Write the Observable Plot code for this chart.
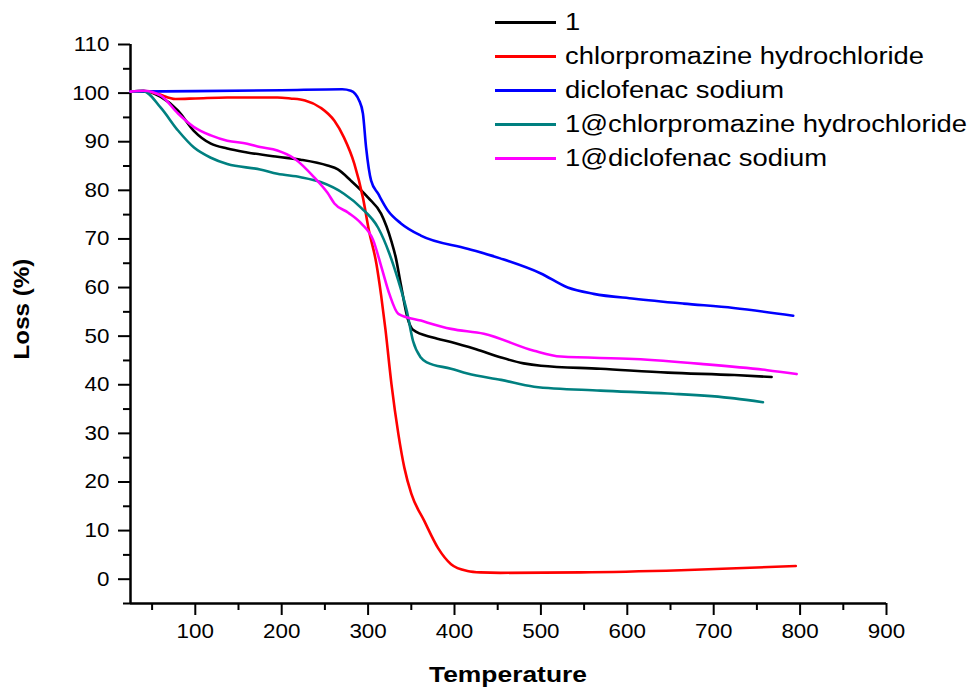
<!DOCTYPE html>
<html>
<head>
<meta charset="utf-8">
<script src="https://cdn.jsdelivr.net/npm/d3@7"></script>
<script src="https://cdn.jsdelivr.net/npm/@observablehq/plot@0.6"></script>
<style>
  html, body { margin: 0; padding: 0; background: #fff; }
  #wrap { position: relative; width: 974px; height: 688px; font-family: "Liberation Sans", Arial, sans-serif; color: #000; }
  #chart { position: absolute; left: 0; top: 0; }
  .legend { position: absolute; left: 495px; top: 6px; }
  .legend .row { display: flex; align-items: center; height: 33.8px; }
  .legend .sw { width: 61px; height: 3px; margin-right: 9px; }
  .legend .lab { font-size: 23px; white-space: nowrap; transform: scaleX(1.19); transform-origin: left center; }
  .ytitle { position: absolute; left: 22px; top: 309px; font-size: 22px; font-weight: bold; white-space: nowrap;
            transform: translate(-50%, -50%) rotate(-90deg) scaleX(1.1); }
  .xtitle { position: absolute; left: 508px; top: 675px; font-size: 22px; font-weight: bold; white-space: nowrap;
            transform: translate(-50%, -50%) scaleX(1.2); }
</style>
</head>
<body>
<div id="wrap">
  <div id="chart"></div>
  <div class="legend" id="legend"></div>
  <div class="ytitle">Loss (%)</div>
  <div class="xtitle">Temperature</div>
</div>
<script>
// ---- data ----
const seriesNames = ["1", "chlorpromazine hydrochloride", "diclofenac sodium", "1@chlorpromazine hydrochloride", "1@diclofenac sodium"];
const seriesColors = ["#000000", "#ff0000", "#0000ff", "#008080", "#ff00ff"];

const temp1 = [25, 40, 60, 80, 98, 118, 137, 160, 195, 222, 253, 265, 280, 300, 315, 327, 332, 338, 346, 352, 375, 396, 425, 454, 480, 500, 569, 647, 724, 767];
const loss1 = [100.3, 100.5, 99.2, 96.4, 92.3, 89.6, 88.6, 87.8, 86.9, 86.3, 85.1, 84.3, 82.0, 78.5, 75.2, 69.5, 66.2, 60.5, 53.5, 51.3, 49.7, 48.8, 47.3, 45.6, 44.4, 43.9, 43.3, 42.5, 42.0, 41.6];

const tempCPZ = [25, 45, 57, 77, 100, 137, 195, 210, 227, 245, 261, 272, 284, 294, 301, 309.6, 315, 320, 327, 335, 342, 350, 365, 381, 396, 415, 430, 453, 546, 662, 795];
const lossCPZ = [100.3, 100.3, 99.8, 98.8, 98.9, 99.1, 99.1, 98.9, 98.5, 97.0, 94.3, 90.9, 85.5, 78.5, 71.7, 64.9, 58.5, 51.5, 40.2, 29.9, 22.9, 17.6, 12.0, 6.4, 3.1, 1.7, 1.4, 1.3, 1.4, 1.85, 2.7];

const tempDS = [25, 100, 200, 270, 280, 289.6, 294, 297.7, 303.5, 311.6, 323, 338, 361, 415, 453, 500, 531, 561, 608, 665, 723, 792];
const lossDS = [100.3, 100.4, 100.6, 100.8, 100.5, 98.5, 95.8, 88.8, 82.0, 79.3, 75.8, 73.2, 70.7, 68.0, 66.0, 62.9, 60.0, 58.7, 57.7, 56.7, 55.8, 54.2];

const temp1CPZ = [25, 40, 60, 80, 98.5, 118, 137, 175, 195, 222, 245, 272, 292, 311.6, 324.6, 335, 345, 352, 361, 368, 396, 415, 454, 492, 569, 647, 724, 757];
const loss1CPZ = [100.3, 100.4, 97.0, 92.3, 88.8, 86.7, 85.4, 84.3, 83.4, 82.7, 81.7, 79.3, 76.4, 72.3, 67.0, 61.4, 55.0, 49.0, 45.6, 44.6, 43.3, 42.3, 41.0, 39.6, 38.8, 38.2, 37.2, 36.4];

const temp1DS = [25, 40, 60, 80, 98.5, 118, 137, 160, 175, 195, 215, 238, 253, 261, 277, 292, 306, 315.6, 324.6, 335, 361, 396, 434, 492, 523, 608, 685, 762, 796];
const loss1DS = [100.3, 100.5, 99.5, 95.8, 93.0, 91.3, 90.2, 89.6, 88.9, 88.2, 86.5, 82.6, 79.5, 77.3, 75.4, 73.2, 69.7, 64.1, 58.7, 54.6, 53.2, 51.5, 50.5, 47.0, 45.8, 45.3, 44.3, 43.0, 42.2];

const xMajorTicks = [100, 200, 300, 400, 500, 600, 700, 800, 900];
const xMinorTicks = [50, 150, 250, 350, 450, 550, 650, 750, 850];
const yMajorTicks = [0, 10, 20, 30, 40, 50, 60, 70, 80, 90, 100, 110];
const yMinorTicks = [-5, 5, 15, 25, 35, 45, 55, 65, 75, 85, 95, 105];

// ---- build table ----
const temps = [temp1, tempCPZ, tempDS, temp1CPZ, temp1DS];
const losses = [loss1, lossCPZ, lossDS, loss1CPZ, loss1DS];
const rows = [];
seriesNames.forEach((name, i) => {
  temps[i].forEach((t, j) => rows.push({series: name, t, loss: losses[i][j]}));
});

const chart = Plot.plot({
  width: 974,
  height: 688,
  marginLeft: 130,
  marginRight: 88,
  marginTop: 44,
  marginBottom: 85,
  x: {domain: [25, 900]},
  y: {domain: [-5, 110]},
  color: {domain: seriesNames, range: seriesColors},
  style: {fontFamily: "'Liberation Sans', Arial, sans-serif", fontSize: "20px", color: "#000", background: "#fff", overflow: "visible"},
  marks: [
    Plot.axisY({ticks: yMinorTicks, tickSize: 7, strokeWidth: 2, tickFormat: () => "", label: null}),
    Plot.axisY({ticks: yMajorTicks, tickSize: 12, tickPadding: 9, strokeWidth: 2, label: null}),
    Plot.axisX({ticks: xMinorTicks, tickSize: 7, strokeWidth: 2, tickFormat: () => "", label: null}),
    Plot.axisX({ticks: xMajorTicks, tickSize: 12, tickPadding: 8, strokeWidth: 2, label: null}),
    Plot.ruleX([25], {y1: -5, y2: 110, strokeWidth: 2.5}),
    Plot.ruleY([-5], {x1: 25, x2: 900, strokeWidth: 2.5}),
    Plot.line(rows, {x: "t", y: "loss", z: "series", stroke: "series", strokeWidth: 2.6, curve: "monotone-x"})
  ]
});
document.getElementById("chart").appendChild(chart);

// widen tick labels slightly (the reference font is horizontally stretched)
chart.querySelectorAll('g[aria-label$="tick label"] text').forEach((t) => {
  const tr = t.getAttribute("transform");
  if (tr) {
    t.setAttribute("transform", tr + " scale(1.12,1)");
  } else {
    const x = +(t.getAttribute("x") || 0), y = +(t.getAttribute("y") || 0);
    t.removeAttribute("x");
    t.removeAttribute("y");
    t.setAttribute("transform", `translate(${x},${y}) scale(1.12,1)`);
  }
});

// ---- legend ----
const legend = document.getElementById("legend");
seriesNames.forEach((name, i) => {
  const row = document.createElement("div");
  row.className = "row";
  const sw = document.createElement("div");
  sw.className = "sw";
  sw.style.background = seriesColors[i];
  const lab = document.createElement("span");
  lab.className = "lab";
  lab.textContent = name;
  row.appendChild(sw);
  row.appendChild(lab);
  legend.appendChild(row);
});
</script>
</body>
</html>
